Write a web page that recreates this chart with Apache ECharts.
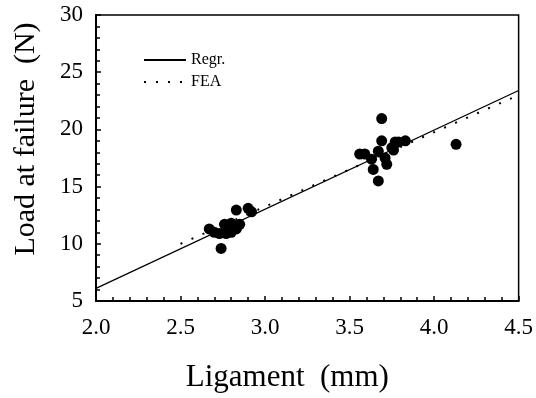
<!DOCTYPE html>
<html>
<head>
<meta charset="utf-8">
<script src="https://cdn.jsdelivr.net/npm/echarts@6/dist/echarts.min.js"></script>
<style>
  html, body { margin: 0; padding: 0; background: #fff; }
  #chart { width: 536px; height: 398px; }
</style>
</head>
<body>
<div id="chart"></div>
<script>
// measured points (ligament mm, load N)
var ligament = [2.67, 2.70, 2.73, 2.74, 2.76, 2.77, 2.78, 2.80, 2.80, 2.82, 2.83, 2.85, 2.83, 2.90, 2.92,
  3.56, 3.59, 3.63, 3.64, 3.67, 3.67, 3.69, 3.69, 3.71, 3.72, 3.75, 3.76, 3.77, 3.79, 3.83, 4.13];
var load = [11.3, 11.0, 10.9, 9.6, 11.7, 10.9, 11.2, 11.8, 11.0, 11.5, 11.3, 11.7, 12.95, 13.1, 12.8,
  17.85, 17.85, 17.4, 16.5, 18.1, 15.5, 19.0, 20.95, 17.5, 16.95, 18.4, 18.2, 18.9, 18.9, 19.0, 18.7];
// fitted lines (end points)
var regrX = [2.0, 4.5];
var regrY = [6.1, 23.4];
var feaX = [2.5, 4.5];
var feaY = [10.0, 23.0];

function pairs(xs, ys) {
  var out = [];
  for (var i = 0; i < xs.length; i++) out.push([xs[i], ys[i]]);
  return out;
}

var myChart = echarts.init(document.getElementById("chart"));
var font = "Liberation Serif";
var option = {
  animation: false,
  backgroundColor: "#fff",
  grid: {
    left: 96, right: 17, top: 15, bottom: 97,
    show: true, borderColor: "#000", borderWidth: 1.5
  },
  legend: {
    orient: "vertical",
    left: 138, top: 47,
    itemWidth: 42, itemHeight: 14, itemGap: 6,
    itemStyle: { opacity: 0 },
    textStyle: { fontFamily: font, fontSize: 16, color: "#000" },
    data: ["Regr.", "FEA"]
  },
  xAxis: {
    type: "value", min: 2, max: 4.5, interval: 0.5,
    name: "Ligament  (mm)", nameLocation: "middle", nameGap: 61,
    nameTextStyle: { fontFamily: font, fontSize: 31, color: "#000", padding: [0, 40, 0, 0] },
    axisLine: { lineStyle: { color: "#000", width: 2 } },
    axisTick: { inside: true, length: 5, lineStyle: { color: "#000", width: 1.5 } },
    minorTick: { show: true, splitNumber: 5, length: 4, lineStyle: { color: "#000", width: 1.5 } },
    axisLabel: {
      fontFamily: font, fontSize: 23, color: "#000", margin: 15,
      formatter: function (v) { return v.toFixed(1); }
    },
    splitLine: { show: false }
  },
  yAxis: {
    type: "value", min: 5, max: 30, interval: 5,
    name: "Load at failure  (N)", nameLocation: "middle", nameGap: 55,
    nameTextStyle: { fontFamily: font, fontSize: 30, color: "#000", padding: [0, 0, 0, 38] },
    axisLine: { show: true, lineStyle: { color: "#000", width: 2 } },
    axisTick: { inside: true, length: 5, lineStyle: { color: "#000", width: 1.5 } },
    minorTick: { show: true, splitNumber: 5, length: 4, lineStyle: { color: "#000", width: 1.5 } },
    axisLabel: { fontFamily: font, fontSize: 23, color: "#000", margin: 13 },
    splitLine: { show: false }
  },
  series: [
    {
      name: "Regr.", type: "line", data: pairs(regrX, regrY),
      symbol: "none", lineStyle: { color: "#000", width: 1.3 }, itemStyle: { color: "#000" }
    },
    {
      name: "FEA", type: "line", data: pairs(feaX, feaY),
      symbol: "none", lineStyle: { color: "#000", width: 2, type: [2, 10] }, itemStyle: { color: "#000" }
    },
    {
      name: "Data", type: "scatter", data: pairs(ligament, load),
      symbolSize: 11, itemStyle: { color: "#000", opacity: 1 }
    }
  ]
};
myChart.setOption(option);
</script>
</body>
</html>
